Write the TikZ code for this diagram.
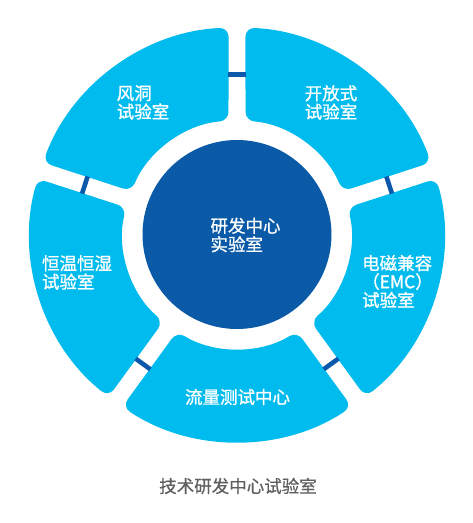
\documentclass[tikz,border=0pt]{standalone}
\usepackage{fontspec}
\setmainfont{Noto Sans CJK SC}
\newfontfamily\boldishcjk[FakeBold=1.2]{Noto Sans CJK SC}
\newfontfamily\midcjk[FakeBold=0.6]{Noto Sans CJK SC}
\usetikzlibrary{calc}
\definecolor{segc}{RGB}{0,187,237}
\definecolor{corec}{RGB}{10,90,168}
\definecolor{barc}{RGB}{12,88,170}
\definecolor{capc}{RGB}{95,95,95}
\begin{document}
\begin{tikzpicture}[x=1pt,y=1pt,
  segment/.style={fill=segc, rounded corners=9pt},
  linkbar/.style={draw=barc, line width=4.6pt},
  lbl/.style={text=white, align=left, inner sep=0pt, font=\boldishcjk\fontsize{17.5}{18.5}\selectfont},
  corelbl/.style={text=white, align=left, inner sep=0pt, font=\midcjk\fontsize{17.5}{18.5}\selectfont},
  caption/.style={text=capc, inner sep=0pt, font=\midcjk\fontsize{17.5}{18.5}\selectfont}]
\useasboundingbox (0,0) rectangle (473,523);
\coordinate (C) at (237,288.5);
% ring segments
\foreach \g in {90,162,234,306,378}{
  \path[segment] ($(C)+(\g+2.35:207)$)
    arc[start angle=\g+2.35, end angle=\g+69.65, radius=207pt]
    -- ($(C)+(\g+67.72:114)$)
    arc[start angle=\g+67.72, end angle=\g+4.28, radius=114pt]
    -- cycle;
}
% link bars in the gaps
\foreach \g [count=\i] in {90,162,234,306,378}{
  \coordinate (b\i a) at ($(C)+(\g:160)+(\g+90:9)$);
  \coordinate (b\i b) at ($(C)+(\g:160)+(\g-90:9)$);
  \draw[linkbar] (b\i a) -- (b\i b);
}
% core
\node[circle, fill=corec, minimum size=189pt, inner sep=0pt] (core) at (C) {};
\node[corelbl] (coretxt) at (245.5,288) {研发中心\\实验室};
% labels
\node[lbl] (wind) at (143,420.5) {风洞\\试验室};
\node[lbl] (open) at (331,420.5) {开放式\\试验室};
\node[lbl] (temp) at (77,250.5) {恒温恒湿\\试验室};
\node[lbl] (emc) at (397.5,241.5) {电磁兼容\\（EMC）\\试验室};
\node[lbl] (flow) at (237.5,126) {流量测试中心};
\node[caption] (cap) at (238,37) {技术研发中心试验室};
\end{tikzpicture}
\end{document}
